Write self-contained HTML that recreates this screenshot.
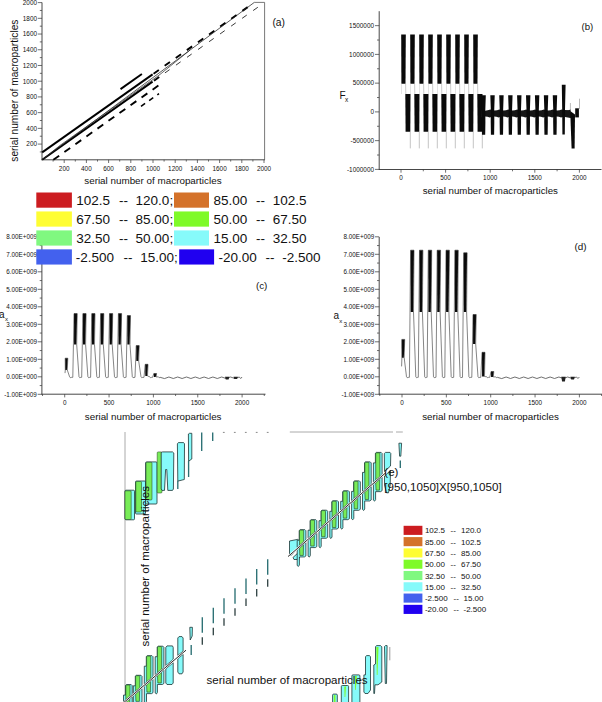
<!DOCTYPE html>
<html><head><meta charset="utf-8"><style>
html,body{margin:0;padding:0;background:#fff;}
body{width:602px;height:702px;overflow:hidden;position:relative;font-family:"Liberation Sans",sans-serif;}
svg{position:absolute;left:0;top:0;}
svg text{font-family:"Liberation Sans",sans-serif;fill:#111;}
</style></head><body>
<svg width="602" height="702" viewBox="0 0 602 702">
<g id="a">
<line x1="42.00" y1="2.50" x2="42.00" y2="160.20" stroke="#333" stroke-width="0.9" />
<line x1="41.60" y1="159.80" x2="265.00" y2="159.80" stroke="#333" stroke-width="0.9" />
<line x1="39.80" y1="151.94" x2="42.00" y2="151.94" stroke="#333" stroke-width="0.7" />
<line x1="37.80" y1="144.08" x2="42.00" y2="144.08" stroke="#333" stroke-width="0.7" />
<text x="37.00" y="146.48" font-size="6.4" text-anchor="end" >200</text>
<line x1="39.80" y1="136.22" x2="42.00" y2="136.22" stroke="#333" stroke-width="0.7" />
<line x1="37.80" y1="128.36" x2="42.00" y2="128.36" stroke="#333" stroke-width="0.7" />
<text x="37.00" y="130.76" font-size="6.4" text-anchor="end" >400</text>
<line x1="39.80" y1="120.50" x2="42.00" y2="120.50" stroke="#333" stroke-width="0.7" />
<line x1="37.80" y1="112.64" x2="42.00" y2="112.64" stroke="#333" stroke-width="0.7" />
<text x="37.00" y="115.04" font-size="6.4" text-anchor="end" >600</text>
<line x1="39.80" y1="104.78" x2="42.00" y2="104.78" stroke="#333" stroke-width="0.7" />
<line x1="37.80" y1="96.92" x2="42.00" y2="96.92" stroke="#333" stroke-width="0.7" />
<text x="37.00" y="99.32" font-size="6.4" text-anchor="end" >800</text>
<line x1="39.80" y1="89.06" x2="42.00" y2="89.06" stroke="#333" stroke-width="0.7" />
<line x1="37.80" y1="81.20" x2="42.00" y2="81.20" stroke="#333" stroke-width="0.7" />
<text x="37.00" y="83.60" font-size="6.4" text-anchor="end" >1000</text>
<line x1="39.80" y1="73.34" x2="42.00" y2="73.34" stroke="#333" stroke-width="0.7" />
<line x1="37.80" y1="65.48" x2="42.00" y2="65.48" stroke="#333" stroke-width="0.7" />
<text x="37.00" y="67.88" font-size="6.4" text-anchor="end" >1200</text>
<line x1="39.80" y1="57.62" x2="42.00" y2="57.62" stroke="#333" stroke-width="0.7" />
<line x1="37.80" y1="49.76" x2="42.00" y2="49.76" stroke="#333" stroke-width="0.7" />
<text x="37.00" y="52.16" font-size="6.4" text-anchor="end" >1400</text>
<line x1="39.80" y1="41.90" x2="42.00" y2="41.90" stroke="#333" stroke-width="0.7" />
<line x1="37.80" y1="34.04" x2="42.00" y2="34.04" stroke="#333" stroke-width="0.7" />
<text x="37.00" y="36.44" font-size="6.4" text-anchor="end" >1600</text>
<line x1="39.80" y1="26.18" x2="42.00" y2="26.18" stroke="#333" stroke-width="0.7" />
<line x1="37.80" y1="18.32" x2="42.00" y2="18.32" stroke="#333" stroke-width="0.7" />
<text x="37.00" y="20.72" font-size="6.4" text-anchor="end" >1800</text>
<line x1="39.80" y1="10.46" x2="42.00" y2="10.46" stroke="#333" stroke-width="0.7" />
<line x1="37.80" y1="2.60" x2="42.00" y2="2.60" stroke="#333" stroke-width="0.7" />
<text x="37.00" y="5.00" font-size="6.4" text-anchor="end" >2000</text>
<line x1="53.10" y1="159.80" x2="53.10" y2="161.60" stroke="#333" stroke-width="0.7" />
<line x1="64.20" y1="159.80" x2="64.20" y2="163.00" stroke="#333" stroke-width="0.7" />
<text x="64.20" y="171.00" font-size="6.4" text-anchor="middle" >200</text>
<line x1="75.30" y1="159.80" x2="75.30" y2="161.60" stroke="#333" stroke-width="0.7" />
<line x1="86.40" y1="159.80" x2="86.40" y2="163.00" stroke="#333" stroke-width="0.7" />
<text x="86.40" y="171.00" font-size="6.4" text-anchor="middle" >400</text>
<line x1="97.50" y1="159.80" x2="97.50" y2="161.60" stroke="#333" stroke-width="0.7" />
<line x1="108.60" y1="159.80" x2="108.60" y2="163.00" stroke="#333" stroke-width="0.7" />
<text x="108.60" y="171.00" font-size="6.4" text-anchor="middle" >600</text>
<line x1="119.70" y1="159.80" x2="119.70" y2="161.60" stroke="#333" stroke-width="0.7" />
<line x1="130.80" y1="159.80" x2="130.80" y2="163.00" stroke="#333" stroke-width="0.7" />
<text x="130.80" y="171.00" font-size="6.4" text-anchor="middle" >800</text>
<line x1="141.90" y1="159.80" x2="141.90" y2="161.60" stroke="#333" stroke-width="0.7" />
<line x1="153.00" y1="159.80" x2="153.00" y2="163.00" stroke="#333" stroke-width="0.7" />
<text x="153.00" y="171.00" font-size="6.4" text-anchor="middle" >1000</text>
<line x1="164.10" y1="159.80" x2="164.10" y2="161.60" stroke="#333" stroke-width="0.7" />
<line x1="175.20" y1="159.80" x2="175.20" y2="163.00" stroke="#333" stroke-width="0.7" />
<text x="175.20" y="171.00" font-size="6.4" text-anchor="middle" >1200</text>
<line x1="186.30" y1="159.80" x2="186.30" y2="161.60" stroke="#333" stroke-width="0.7" />
<line x1="197.40" y1="159.80" x2="197.40" y2="163.00" stroke="#333" stroke-width="0.7" />
<text x="197.40" y="171.00" font-size="6.4" text-anchor="middle" >1400</text>
<line x1="208.50" y1="159.80" x2="208.50" y2="161.60" stroke="#333" stroke-width="0.7" />
<line x1="219.60" y1="159.80" x2="219.60" y2="163.00" stroke="#333" stroke-width="0.7" />
<text x="219.60" y="171.00" font-size="6.4" text-anchor="middle" >1600</text>
<line x1="230.70" y1="159.80" x2="230.70" y2="161.60" stroke="#333" stroke-width="0.7" />
<line x1="241.80" y1="159.80" x2="241.80" y2="163.00" stroke="#333" stroke-width="0.7" />
<text x="241.80" y="171.00" font-size="6.4" text-anchor="middle" >1800</text>
<line x1="252.90" y1="159.80" x2="252.90" y2="161.60" stroke="#333" stroke-width="0.7" />
<line x1="264.00" y1="159.80" x2="264.00" y2="163.00" stroke="#333" stroke-width="0.7" />
<text x="264.00" y="171.00" font-size="6.4" text-anchor="middle" >2000</text>
<text x="152.90" y="184.20" font-size="9.85" text-anchor="middle" >serial number of macroparticles</text>
<text x="17.60" y="90.60" font-size="10.2" text-anchor="middle" transform="rotate(-90 17.6 90.6)">serial number of macroparticles</text>
<text x="272.40" y="25.90" font-size="10.3" text-anchor="start" >(a)</text>
<line x1="42.20" y1="152.40" x2="152.60" y2="74.35" stroke="#000" stroke-width="1.9" />
<line x1="247.70" y1="7.11" x2="153.50" y2="73.71" stroke="#000" stroke-width="1.9" stroke-dasharray="6.5 7.1"/>
<line x1="42.20" y1="159.70" x2="152.60" y2="81.65" stroke="#000" stroke-width="1.9" />
<line x1="154.00" y1="80.66" x2="159.20" y2="76.98" stroke="#000" stroke-width="1.9" />
<line x1="257.80" y1="7.27" x2="159.00" y2="77.12" stroke="#222" stroke-width="0.9" stroke-dasharray="5.7 7.8"/>
<line x1="42.20" y1="159.70" x2="254.30" y2="2.40" stroke="#222" stroke-width="0.75" />
<polyline points="42.2,159.7 60,145.42 159,75.22 190,50.08" fill="none" stroke="#222" stroke-width="0.7"/>
<line x1="254.30" y1="2.40" x2="264.60" y2="2.40" stroke="#555" stroke-width="0.8" />
<line x1="264.60" y1="2.40" x2="264.60" y2="159.80" stroke="#555" stroke-width="0.8" />
<line x1="53.37" y1="159.80" x2="159.00" y2="85.12" stroke="#000" stroke-width="1.9" stroke-dasharray="7.1 6.4"/>
<line x1="141.00" y1="106.35" x2="159.00" y2="93.62" stroke="#000" stroke-width="1.6" stroke-dasharray="5 5"/>
<line x1="120.50" y1="89.10" x2="141.90" y2="74.00" stroke="#000" stroke-width="1.9" />
</g>
<g id="b">
<line x1="379.20" y1="11.20" x2="379.20" y2="169.50" stroke="#333" stroke-width="0.9" />
<line x1="378.80" y1="169.50" x2="601.50" y2="169.50" stroke="#333" stroke-width="0.9" />
<line x1="375.00" y1="169.40" x2="379.20" y2="169.40" stroke="#333" stroke-width="0.7" />
<text x="374.00" y="171.70" font-size="6.4" text-anchor="end" >-1000000</text>
<line x1="377.00" y1="155.03" x2="379.20" y2="155.03" stroke="#333" stroke-width="0.7" />
<line x1="375.00" y1="140.65" x2="379.20" y2="140.65" stroke="#333" stroke-width="0.7" />
<text x="374.00" y="142.95" font-size="6.4" text-anchor="end" >-500000</text>
<line x1="377.00" y1="126.28" x2="379.20" y2="126.28" stroke="#333" stroke-width="0.7" />
<line x1="375.00" y1="111.90" x2="379.20" y2="111.90" stroke="#333" stroke-width="0.7" />
<text x="374.00" y="114.20" font-size="6.4" text-anchor="end" >0</text>
<line x1="377.00" y1="97.53" x2="379.20" y2="97.53" stroke="#333" stroke-width="0.7" />
<line x1="375.00" y1="83.15" x2="379.20" y2="83.15" stroke="#333" stroke-width="0.7" />
<text x="374.00" y="85.45" font-size="6.4" text-anchor="end" >500000</text>
<line x1="377.00" y1="68.78" x2="379.20" y2="68.78" stroke="#333" stroke-width="0.7" />
<line x1="375.00" y1="54.40" x2="379.20" y2="54.40" stroke="#333" stroke-width="0.7" />
<text x="374.00" y="56.70" font-size="6.4" text-anchor="end" >1000000</text>
<line x1="377.00" y1="40.03" x2="379.20" y2="40.03" stroke="#333" stroke-width="0.7" />
<line x1="375.00" y1="25.65" x2="379.20" y2="25.65" stroke="#333" stroke-width="0.7" />
<text x="374.00" y="27.95" font-size="6.4" text-anchor="end" >1500000</text>
<line x1="401.00" y1="169.50" x2="401.00" y2="172.70" stroke="#333" stroke-width="0.7" />
<text x="401.00" y="180.30" font-size="6.4" text-anchor="middle" >0</text>
<line x1="423.30" y1="169.50" x2="423.30" y2="171.30" stroke="#333" stroke-width="0.7" />
<line x1="445.60" y1="169.50" x2="445.60" y2="172.70" stroke="#333" stroke-width="0.7" />
<text x="445.60" y="180.30" font-size="6.4" text-anchor="middle" >500</text>
<line x1="467.90" y1="169.50" x2="467.90" y2="171.30" stroke="#333" stroke-width="0.7" />
<line x1="490.20" y1="169.50" x2="490.20" y2="172.70" stroke="#333" stroke-width="0.7" />
<text x="490.20" y="180.30" font-size="6.4" text-anchor="middle" >1000</text>
<line x1="512.50" y1="169.50" x2="512.50" y2="171.30" stroke="#333" stroke-width="0.7" />
<line x1="534.80" y1="169.50" x2="534.80" y2="172.70" stroke="#333" stroke-width="0.7" />
<text x="534.80" y="180.30" font-size="6.4" text-anchor="middle" >1500</text>
<line x1="557.10" y1="169.50" x2="557.10" y2="171.30" stroke="#333" stroke-width="0.7" />
<line x1="579.40" y1="169.50" x2="579.40" y2="172.70" stroke="#333" stroke-width="0.7" />
<text x="579.40" y="180.30" font-size="6.4" text-anchor="middle" >2000</text>
<text x="490.30" y="193.90" font-size="9.7" text-anchor="middle" >serial number of macroparticles</text>
<text x="339.50" y="98.80" font-size="10" text-anchor="start" >F</text>
<text x="345.00" y="102.40" font-size="6.5" text-anchor="start" >x</text>
<text x="581.50" y="30.40" font-size="9.6" text-anchor="start" >(b)</text>
<polygon points="401.20,34.50 405.80,34.50 405.50,83.70 401.40,83.70" fill="#0a0a0a" />
<line x1="405.60" y1="83.70" x2="405.80" y2="94.00" stroke="#999" stroke-width="0.5" />
<line x1="401.50" y1="83.70" x2="401.50" y2="94.00" stroke="#bbb" stroke-width="0.4" />
<polygon points="410.20,34.50 414.80,34.50 414.50,83.70 410.40,83.70" fill="#0a0a0a" />
<line x1="414.60" y1="83.70" x2="414.80" y2="94.00" stroke="#999" stroke-width="0.5" />
<line x1="410.50" y1="83.70" x2="410.50" y2="94.00" stroke="#bbb" stroke-width="0.4" />
<polygon points="419.20,34.50 423.80,34.50 423.50,83.70 419.40,83.70" fill="#0a0a0a" />
<line x1="423.60" y1="83.70" x2="423.80" y2="94.00" stroke="#999" stroke-width="0.5" />
<line x1="419.50" y1="83.70" x2="419.50" y2="94.00" stroke="#bbb" stroke-width="0.4" />
<polygon points="428.20,34.50 432.80,34.50 432.50,83.70 428.40,83.70" fill="#0a0a0a" />
<line x1="432.60" y1="83.70" x2="432.80" y2="94.00" stroke="#999" stroke-width="0.5" />
<line x1="428.50" y1="83.70" x2="428.50" y2="94.00" stroke="#bbb" stroke-width="0.4" />
<polygon points="437.20,34.50 441.80,34.50 441.50,83.70 437.40,83.70" fill="#0a0a0a" />
<line x1="441.60" y1="83.70" x2="441.80" y2="94.00" stroke="#999" stroke-width="0.5" />
<line x1="437.50" y1="83.70" x2="437.50" y2="94.00" stroke="#bbb" stroke-width="0.4" />
<polygon points="446.20,34.50 450.80,34.50 450.50,83.70 446.40,83.70" fill="#0a0a0a" />
<line x1="450.60" y1="83.70" x2="450.80" y2="94.00" stroke="#999" stroke-width="0.5" />
<line x1="446.50" y1="83.70" x2="446.50" y2="94.00" stroke="#bbb" stroke-width="0.4" />
<polygon points="455.20,34.50 459.80,34.50 459.50,83.70 455.40,83.70" fill="#0a0a0a" />
<line x1="459.60" y1="83.70" x2="459.80" y2="94.00" stroke="#999" stroke-width="0.5" />
<line x1="455.50" y1="83.70" x2="455.50" y2="94.00" stroke="#bbb" stroke-width="0.4" />
<polygon points="464.20,34.50 468.80,34.50 468.50,83.70 464.40,83.70" fill="#0a0a0a" />
<line x1="468.60" y1="83.70" x2="468.80" y2="94.00" stroke="#999" stroke-width="0.5" />
<line x1="464.50" y1="83.70" x2="464.50" y2="94.00" stroke="#bbb" stroke-width="0.4" />
<polygon points="473.20,34.50 477.80,34.50 477.50,83.70 473.40,83.70" fill="#0a0a0a" />
<line x1="477.60" y1="83.70" x2="477.80" y2="94.00" stroke="#999" stroke-width="0.5" />
<line x1="473.50" y1="83.70" x2="473.50" y2="94.00" stroke="#bbb" stroke-width="0.4" />
<polygon points="405.30,94.00 410.50,94.00 410.30,131.80 405.60,131.80" fill="#0a0a0a" />
<line x1="410.30" y1="131.80" x2="410.30" y2="148.40" stroke="#888" stroke-width="0.5" />
<polygon points="414.30,94.00 419.50,94.00 419.30,131.80 414.60,131.80" fill="#0a0a0a" />
<line x1="419.30" y1="131.80" x2="419.30" y2="148.40" stroke="#888" stroke-width="0.5" />
<polygon points="423.30,94.00 428.50,94.00 428.30,131.80 423.60,131.80" fill="#0a0a0a" />
<line x1="428.30" y1="131.80" x2="428.30" y2="148.40" stroke="#888" stroke-width="0.5" />
<polygon points="432.30,94.00 437.50,94.00 437.30,131.80 432.60,131.80" fill="#0a0a0a" />
<line x1="437.30" y1="131.80" x2="437.30" y2="148.40" stroke="#888" stroke-width="0.5" />
<polygon points="441.30,94.00 446.50,94.00 446.30,131.80 441.60,131.80" fill="#0a0a0a" />
<line x1="446.30" y1="131.80" x2="446.30" y2="148.40" stroke="#888" stroke-width="0.5" />
<polygon points="450.30,94.00 455.50,94.00 455.30,131.80 450.60,131.80" fill="#0a0a0a" />
<line x1="455.30" y1="131.80" x2="455.30" y2="148.40" stroke="#888" stroke-width="0.5" />
<polygon points="459.30,94.00 464.50,94.00 464.30,131.80 459.60,131.80" fill="#0a0a0a" />
<line x1="464.30" y1="131.80" x2="464.30" y2="148.40" stroke="#888" stroke-width="0.5" />
<polygon points="468.30,94.00 473.50,94.00 473.30,131.80 468.60,131.80" fill="#0a0a0a" />
<line x1="473.30" y1="131.80" x2="473.30" y2="148.40" stroke="#888" stroke-width="0.5" />
<polygon points="477.30,94.00 482.50,94.00 482.30,131.80 477.60,131.80" fill="#0a0a0a" />
<line x1="482.30" y1="131.80" x2="482.30" y2="148.40" stroke="#888" stroke-width="0.5" />
<path d="M 481.5 110.2 Q 485.96 111.4 490.42 109.6 Q 494.88 111.4 499.34 109.6 Q 503.80 111.4 508.26 109.6 Q 512.72 111.4 517.18 109.6 Q 521.64 111.4 526.10 109.6 Q 530.56 111.4 535.02 109.6 Q 539.48 111.4 543.94 109.6 Q 548.40 111.4 552.86 109.6 Q 557.32 111.4 561.78 109.6 Q 566.24 111.4 570.70 109.6 L 570 117.2 Q 565.54 115.8 561.08 117.4 Q 556.62 115.8 552.16 117.4 Q 547.70 115.8 543.24 117.4 Q 538.78 115.8 534.32 117.4 Q 529.86 115.8 525.40 117.4 Q 520.94 115.8 516.48 117.4 Q 512.02 115.8 507.56 117.4 Q 503.10 115.8 498.64 117.4 Q 494.18 115.8 489.72 117.4 Q 485.26 115.8 480.80 117.4 Z" fill="#161616"/>
<polygon points="481.40,95.20 485.80,95.20 485.30,110.00 485.40,122.00 485.20,134.80 482.00,134.80 481.80,122.00 481.90,110.00" fill="#0a0a0a" />
<polygon points="490.32,95.20 494.72,95.20 494.22,110.00 494.32,122.00 494.12,134.80 490.92,134.80 490.72,122.00 490.82,110.00" fill="#0a0a0a" />
<polygon points="499.24,95.20 503.64,95.20 503.14,110.00 503.24,122.00 503.04,134.80 499.84,134.80 499.64,122.00 499.74,110.00" fill="#0a0a0a" />
<polygon points="508.16,95.20 512.56,95.20 512.06,110.00 512.16,122.00 511.96,134.80 508.76,134.80 508.56,122.00 508.66,110.00" fill="#0a0a0a" />
<polygon points="517.08,95.20 521.48,95.20 520.98,110.00 521.08,122.00 520.88,134.80 517.68,134.80 517.48,122.00 517.58,110.00" fill="#0a0a0a" />
<polygon points="526.00,95.20 530.40,95.20 529.90,110.00 530.00,122.00 529.80,134.80 526.60,134.80 526.40,122.00 526.50,110.00" fill="#0a0a0a" />
<polygon points="534.92,95.20 539.32,95.20 538.82,110.00 538.92,122.00 538.72,134.80 535.52,134.80 535.32,122.00 535.42,110.00" fill="#0a0a0a" />
<polygon points="543.84,95.20 548.24,95.20 547.74,110.00 547.84,122.00 547.64,134.80 544.44,134.80 544.24,122.00 544.34,110.00" fill="#0a0a0a" />
<polygon points="552.76,95.20 557.16,95.20 556.66,110.00 556.76,122.00 556.56,134.80 553.36,134.80 553.16,122.00 553.26,110.00" fill="#0a0a0a" />
<polygon points="561.80,84.80 565.60,84.80 565.00,110.00 564.80,134.50 562.40,134.50 562.20,110.00" fill="#0a0a0a" />
<polygon points="565.00,110.00 570.00,110.50 572.50,117.00 570.50,118.00 565.00,117.00" fill="#161616" />
<polygon points="570.20,111.00 575.00,114.50 574.60,148.40 571.60,148.40" fill="#0a0a0a" />
<rect x="575.20" y="108.30" width="3.70" height="9.10" fill="#0a0a0a" />
<line x1="579.50" y1="98.70" x2="579.50" y2="109.00" stroke="#777" stroke-width="0.5" />
<line x1="570.40" y1="103.00" x2="570.40" y2="110.00" stroke="#777" stroke-width="0.5" />
</g>
<g id="cd">
<line x1="41.90" y1="237.00" x2="41.90" y2="394.40" stroke="#333" stroke-width="0.9" />
<line x1="41.50" y1="394.20" x2="265.50" y2="394.20" stroke="#333" stroke-width="0.9" />
<line x1="37.70" y1="394.30" x2="41.90" y2="394.30" stroke="#333" stroke-width="0.7" />
<text x="36.90" y="396.50" font-size="6.3" text-anchor="end" >-1.00E+009</text>
<line x1="39.70" y1="385.55" x2="41.90" y2="385.55" stroke="#333" stroke-width="0.7" />
<line x1="37.70" y1="376.80" x2="41.90" y2="376.80" stroke="#333" stroke-width="0.7" />
<text x="36.90" y="379.00" font-size="6.3" text-anchor="end" >0.00E+000</text>
<line x1="39.70" y1="368.05" x2="41.90" y2="368.05" stroke="#333" stroke-width="0.7" />
<line x1="37.70" y1="359.30" x2="41.90" y2="359.30" stroke="#333" stroke-width="0.7" />
<text x="36.90" y="361.50" font-size="6.3" text-anchor="end" >1.00E+009</text>
<line x1="39.70" y1="350.55" x2="41.90" y2="350.55" stroke="#333" stroke-width="0.7" />
<line x1="37.70" y1="341.80" x2="41.90" y2="341.80" stroke="#333" stroke-width="0.7" />
<text x="36.90" y="344.00" font-size="6.3" text-anchor="end" >2.00E+009</text>
<line x1="39.70" y1="333.05" x2="41.90" y2="333.05" stroke="#333" stroke-width="0.7" />
<line x1="37.70" y1="324.30" x2="41.90" y2="324.30" stroke="#333" stroke-width="0.7" />
<text x="36.90" y="326.50" font-size="6.3" text-anchor="end" >3.00E+009</text>
<line x1="39.70" y1="315.55" x2="41.90" y2="315.55" stroke="#333" stroke-width="0.7" />
<line x1="37.70" y1="306.80" x2="41.90" y2="306.80" stroke="#333" stroke-width="0.7" />
<text x="36.90" y="309.00" font-size="6.3" text-anchor="end" >4.00E+009</text>
<line x1="39.70" y1="298.05" x2="41.90" y2="298.05" stroke="#333" stroke-width="0.7" />
<line x1="37.70" y1="289.30" x2="41.90" y2="289.30" stroke="#333" stroke-width="0.7" />
<text x="36.90" y="291.50" font-size="6.3" text-anchor="end" >5.00E+009</text>
<line x1="39.70" y1="280.55" x2="41.90" y2="280.55" stroke="#333" stroke-width="0.7" />
<line x1="37.70" y1="271.80" x2="41.90" y2="271.80" stroke="#333" stroke-width="0.7" />
<text x="36.90" y="274.00" font-size="6.3" text-anchor="end" >6.00E+009</text>
<line x1="39.70" y1="263.05" x2="41.90" y2="263.05" stroke="#333" stroke-width="0.7" />
<line x1="37.70" y1="254.30" x2="41.90" y2="254.30" stroke="#333" stroke-width="0.7" />
<text x="36.90" y="256.50" font-size="6.3" text-anchor="end" >7.00E+009</text>
<line x1="39.70" y1="245.55" x2="41.90" y2="245.55" stroke="#333" stroke-width="0.7" />
<line x1="37.70" y1="236.80" x2="41.90" y2="236.80" stroke="#333" stroke-width="0.7" />
<text x="36.90" y="239.00" font-size="6.3" text-anchor="end" >8.00E+009</text>
<line x1="42.53" y1="394.20" x2="42.53" y2="396.00" stroke="#333" stroke-width="0.7" />
<line x1="64.70" y1="394.20" x2="64.70" y2="397.40" stroke="#333" stroke-width="0.7" />
<text x="64.70" y="405.00" font-size="6.4" text-anchor="middle" >0</text>
<line x1="86.88" y1="394.20" x2="86.88" y2="396.00" stroke="#333" stroke-width="0.7" />
<line x1="109.05" y1="394.20" x2="109.05" y2="397.40" stroke="#333" stroke-width="0.7" />
<text x="109.05" y="405.00" font-size="6.4" text-anchor="middle" >500</text>
<line x1="131.23" y1="394.20" x2="131.23" y2="396.00" stroke="#333" stroke-width="0.7" />
<line x1="153.40" y1="394.20" x2="153.40" y2="397.40" stroke="#333" stroke-width="0.7" />
<text x="153.40" y="405.00" font-size="6.4" text-anchor="middle" >1000</text>
<line x1="175.57" y1="394.20" x2="175.57" y2="396.00" stroke="#333" stroke-width="0.7" />
<line x1="197.75" y1="394.20" x2="197.75" y2="397.40" stroke="#333" stroke-width="0.7" />
<text x="197.75" y="405.00" font-size="6.4" text-anchor="middle" >1500</text>
<line x1="219.93" y1="394.20" x2="219.93" y2="396.00" stroke="#333" stroke-width="0.7" />
<line x1="242.10" y1="394.20" x2="242.10" y2="397.40" stroke="#333" stroke-width="0.7" />
<text x="242.10" y="405.00" font-size="6.4" text-anchor="middle" >2000</text>
<line x1="264.27" y1="394.20" x2="264.27" y2="396.00" stroke="#333" stroke-width="0.7" />
<text x="153.20" y="419.70" font-size="9.8" text-anchor="middle" >serial number of macroparticles</text>
<text x="-1.00" y="317.90" font-size="10" text-anchor="start" >a</text>
<text x="5.00" y="321.40" font-size="6.0" text-anchor="start" >x</text>
<text x="255.90" y="289.00" font-size="9.9" text-anchor="start" >(c)</text>
<polygon points="65.20,358.20 67.80,358.20 66.90,370.00 65.30,370.00" fill="#0a0a0a" />
<polygon points="74.00,313.60 77.20,313.60 76.30,344.60 74.10,344.60" fill="#0a0a0a" />
<polygon points="82.88,313.60 86.08,313.60 85.18,344.60 82.98,344.60" fill="#0a0a0a" />
<polygon points="91.76,313.60 94.96,313.60 94.06,344.60 91.86,344.60" fill="#0a0a0a" />
<polygon points="100.64,313.60 103.84,313.60 102.94,344.60 100.74,344.60" fill="#0a0a0a" />
<polygon points="109.52,313.60 112.72,313.60 111.82,344.60 109.62,344.60" fill="#0a0a0a" />
<polygon points="118.40,313.60 121.60,313.60 120.70,344.60 118.50,344.60" fill="#0a0a0a" />
<polygon points="127.28,315.60 130.48,315.60 129.58,344.60 127.38,344.60" fill="#0a0a0a" />
<polygon points="136.20,345.60 139.20,345.60 138.30,361.00 136.30,361.00" fill="#0a0a0a" />
<polygon points="145.20,364.30 148.00,364.30 147.10,376.00 145.30,376.00" fill="#0a0a0a" />
<polygon points="153.80,373.50 156.60,373.50 155.70,377.00 153.90,377.00" fill="#0a0a0a" />
<path d="M 65.0 373.1 L 65.3 370.0 L 65.2 358.2 L 67.8 358.2 L 67.3 370.0 L 69.6 376.8 Q 70.3 378.4 71.3 377.4 L 72.8 377.3 L 74.0 313.6 L 77.2 313.6 L 76.7 344.6 L 79.0 376.8 Q 79.7 378.4 80.7 377.4 L 81.7 377.3 L 82.9 313.6 L 86.1 313.6 L 85.6 344.6 L 87.9 376.8 Q 88.6 378.4 89.6 377.4 L 90.6 377.3 L 91.8 313.6 L 95.0 313.6 L 94.5 344.6 L 96.8 376.8 Q 97.5 378.4 98.5 377.4 L 99.4 377.3 L 100.6 313.6 L 103.8 313.6 L 103.3 344.6 L 105.6 376.8 Q 106.3 378.4 107.3 377.4 L 108.3 377.3 L 109.5 313.6 L 112.7 313.6 L 112.2 344.6 L 114.5 376.8 Q 115.2 378.4 116.2 377.4 L 117.2 377.3 L 118.4 313.6 L 121.6 313.6 L 121.1 344.6 L 123.4 376.8 Q 124.1 378.4 125.1 377.4 L 126.1 377.3 L 127.3 315.6 L 130.5 315.6 L 130.0 344.6 L 132.3 376.8 Q 133.0 378.4 134.0 377.4 L 135.0 377.3 L 136.2 345.6 L 139.2 345.6 L 138.7 361.0 L 141.0 376.8 Q 141.7 378.4 142.7 377.4 L 144.0 377.3 L 145.2 364.3 L 148.0 364.3 L 147.5 376.0 L 149.8 376.8 Q 150.5 378.4 151.5 377.4 L 152.6 377.3 L 153.8 373.5 L 156.6 373.5 L 156.1 377.0 L 158.4 376.8 Q 159.1 378.4 160.1 377.4" fill="none" stroke="#333" stroke-width="0.6"/>
<path d="M 160.1 377.3 Q 164.5 380.0 168.9 377.0 Q 173.3 380.0 177.7 377.0 Q 182.1 380.0 186.5 377.0 Q 190.9 380.0 195.3 377.0 Q 199.7 380.0 204.1 377.0 Q 208.5 380.0 212.9 377.0 Q 217.3 380.0 221.7 377.0 Q 226.1 380.0 230.5 377.0 Q 234.9 380.0 239.3 377.0 Q 240.7 380.0 242.1 377.0 " fill="none" stroke="#555" stroke-width="0.85"/>
<polygon points="225.00,376.80 229.40,376.80 228.60,379.60 225.80,379.60" fill="#222" />
<polygon points="233.50,376.80 237.90,376.80 237.10,379.00 234.30,379.00" fill="#222" />
<line x1="379.20" y1="237.00" x2="379.20" y2="394.40" stroke="#333" stroke-width="0.9" />
<line x1="378.80" y1="394.20" x2="602.80" y2="394.20" stroke="#333" stroke-width="0.9" />
<line x1="375.00" y1="394.30" x2="379.20" y2="394.30" stroke="#333" stroke-width="0.7" />
<text x="374.20" y="396.50" font-size="6.3" text-anchor="end" >-1.00E+009</text>
<line x1="377.00" y1="385.55" x2="379.20" y2="385.55" stroke="#333" stroke-width="0.7" />
<line x1="375.00" y1="376.80" x2="379.20" y2="376.80" stroke="#333" stroke-width="0.7" />
<text x="374.20" y="379.00" font-size="6.3" text-anchor="end" >0.00E+000</text>
<line x1="377.00" y1="368.05" x2="379.20" y2="368.05" stroke="#333" stroke-width="0.7" />
<line x1="375.00" y1="359.30" x2="379.20" y2="359.30" stroke="#333" stroke-width="0.7" />
<text x="374.20" y="361.50" font-size="6.3" text-anchor="end" >1.00E+009</text>
<line x1="377.00" y1="350.55" x2="379.20" y2="350.55" stroke="#333" stroke-width="0.7" />
<line x1="375.00" y1="341.80" x2="379.20" y2="341.80" stroke="#333" stroke-width="0.7" />
<text x="374.20" y="344.00" font-size="6.3" text-anchor="end" >2.00E+009</text>
<line x1="377.00" y1="333.05" x2="379.20" y2="333.05" stroke="#333" stroke-width="0.7" />
<line x1="375.00" y1="324.30" x2="379.20" y2="324.30" stroke="#333" stroke-width="0.7" />
<text x="374.20" y="326.50" font-size="6.3" text-anchor="end" >3.00E+009</text>
<line x1="377.00" y1="315.55" x2="379.20" y2="315.55" stroke="#333" stroke-width="0.7" />
<line x1="375.00" y1="306.80" x2="379.20" y2="306.80" stroke="#333" stroke-width="0.7" />
<text x="374.20" y="309.00" font-size="6.3" text-anchor="end" >4.00E+009</text>
<line x1="377.00" y1="298.05" x2="379.20" y2="298.05" stroke="#333" stroke-width="0.7" />
<line x1="375.00" y1="289.30" x2="379.20" y2="289.30" stroke="#333" stroke-width="0.7" />
<text x="374.20" y="291.50" font-size="6.3" text-anchor="end" >5.00E+009</text>
<line x1="377.00" y1="280.55" x2="379.20" y2="280.55" stroke="#333" stroke-width="0.7" />
<line x1="375.00" y1="271.80" x2="379.20" y2="271.80" stroke="#333" stroke-width="0.7" />
<text x="374.20" y="274.00" font-size="6.3" text-anchor="end" >6.00E+009</text>
<line x1="377.00" y1="263.05" x2="379.20" y2="263.05" stroke="#333" stroke-width="0.7" />
<line x1="375.00" y1="254.30" x2="379.20" y2="254.30" stroke="#333" stroke-width="0.7" />
<text x="374.20" y="256.50" font-size="6.3" text-anchor="end" >7.00E+009</text>
<line x1="377.00" y1="245.55" x2="379.20" y2="245.55" stroke="#333" stroke-width="0.7" />
<line x1="375.00" y1="236.80" x2="379.20" y2="236.80" stroke="#333" stroke-width="0.7" />
<text x="374.20" y="239.00" font-size="6.3" text-anchor="end" >8.00E+009</text>
<line x1="379.82" y1="394.20" x2="379.82" y2="396.00" stroke="#333" stroke-width="0.7" />
<line x1="402.00" y1="394.20" x2="402.00" y2="397.40" stroke="#333" stroke-width="0.7" />
<text x="402.00" y="405.00" font-size="6.4" text-anchor="middle" >0</text>
<line x1="424.18" y1="394.20" x2="424.18" y2="396.00" stroke="#333" stroke-width="0.7" />
<line x1="446.35" y1="394.20" x2="446.35" y2="397.40" stroke="#333" stroke-width="0.7" />
<text x="446.35" y="405.00" font-size="6.4" text-anchor="middle" >500</text>
<line x1="468.52" y1="394.20" x2="468.52" y2="396.00" stroke="#333" stroke-width="0.7" />
<line x1="490.70" y1="394.20" x2="490.70" y2="397.40" stroke="#333" stroke-width="0.7" />
<text x="490.70" y="405.00" font-size="6.4" text-anchor="middle" >1000</text>
<line x1="512.88" y1="394.20" x2="512.88" y2="396.00" stroke="#333" stroke-width="0.7" />
<line x1="535.05" y1="394.20" x2="535.05" y2="397.40" stroke="#333" stroke-width="0.7" />
<text x="535.05" y="405.00" font-size="6.4" text-anchor="middle" >1500</text>
<line x1="557.23" y1="394.20" x2="557.23" y2="396.00" stroke="#333" stroke-width="0.7" />
<line x1="579.40" y1="394.20" x2="579.40" y2="397.40" stroke="#333" stroke-width="0.7" />
<text x="579.40" y="405.00" font-size="6.4" text-anchor="middle" >2000</text>
<line x1="601.58" y1="394.20" x2="601.58" y2="396.00" stroke="#333" stroke-width="0.7" />
<text x="490.50" y="419.70" font-size="9.8" text-anchor="middle" >serial number of macroparticles</text>
<text x="333.50" y="319.40" font-size="10" text-anchor="start" >a</text>
<text x="339.20" y="322.60" font-size="6.0" text-anchor="start" >x</text>
<text x="574.50" y="250.20" font-size="9.9" text-anchor="start" >(d)</text>
<polygon points="401.80,339.40 404.70,339.40 403.80,357.80 401.90,357.80" fill="#0a0a0a" />
<polygon points="410.60,250.20 414.00,250.20 413.10,312.00 410.70,312.00" fill="#0a0a0a" />
<polygon points="419.45,250.20 422.85,250.20 421.95,312.00 419.55,312.00" fill="#0a0a0a" />
<polygon points="428.30,250.20 431.70,250.20 430.80,312.00 428.40,312.00" fill="#0a0a0a" />
<polygon points="437.15,250.20 440.55,250.20 439.65,312.00 437.25,312.00" fill="#0a0a0a" />
<polygon points="446.00,250.20 449.40,250.20 448.50,312.00 446.10,312.00" fill="#0a0a0a" />
<polygon points="454.85,250.20 458.25,250.20 457.35,312.00 454.95,312.00" fill="#0a0a0a" />
<polygon points="463.70,252.80 467.10,252.80 466.20,312.00 463.80,312.00" fill="#0a0a0a" />
<polygon points="473.00,314.50 476.20,314.50 475.30,344.00 473.10,344.00" fill="#0a0a0a" />
<polygon points="482.00,352.30 485.00,352.30 484.10,376.50 482.10,376.50" fill="#0a0a0a" />
<polygon points="491.00,371.50 493.80,371.50 492.90,377.00 491.10,377.00" fill="#0a0a0a" />
<path d="M 401.6 366.4 L 401.9 357.8 L 401.8 339.4 L 404.7 339.4 L 404.2 357.8 L 406.5 376.8 Q 407.2 378.4 408.2 377.4 L 409.4 377.3 L 410.6 250.2 L 414.0 250.2 L 413.5 312.0 L 415.8 376.8 Q 416.5 378.4 417.5 377.4 L 418.3 377.3 L 419.5 250.2 L 422.9 250.2 L 422.4 312.0 L 424.7 376.8 Q 425.4 378.4 426.4 377.4 L 427.1 377.3 L 428.3 250.2 L 431.7 250.2 L 431.2 312.0 L 433.5 376.8 Q 434.2 378.4 435.2 377.4 L 436.0 377.3 L 437.2 250.2 L 440.6 250.2 L 440.1 312.0 L 442.4 376.8 Q 443.1 378.4 444.1 377.4 L 444.8 377.3 L 446.0 250.2 L 449.4 250.2 L 448.9 312.0 L 451.2 376.8 Q 451.9 378.4 452.9 377.4 L 453.7 377.3 L 454.9 250.2 L 458.2 250.2 L 457.8 312.0 L 460.1 376.8 Q 460.8 378.4 461.8 377.4 L 462.5 377.3 L 463.7 252.8 L 467.1 252.8 L 466.6 312.0 L 468.9 376.8 Q 469.6 378.4 470.6 377.4 L 471.8 377.3 L 473.0 314.5 L 476.2 314.5 L 475.7 344.0 L 478.0 376.8 Q 478.7 378.4 479.7 377.4 L 480.8 377.3 L 482.0 352.3 L 485.0 352.3 L 484.5 376.5 L 486.8 376.8 Q 487.5 378.4 488.5 377.4 L 489.8 377.3 L 491.0 371.5 L 493.8 371.5 L 493.3 377.0 L 495.6 376.8 Q 496.3 378.4 497.3 377.4" fill="none" stroke="#333" stroke-width="0.6"/>
<path d="M 497.3 377.3 Q 501.7 380.0 506.1 377.0 Q 510.5 380.0 514.9 377.0 Q 519.3 380.0 523.7 377.0 Q 528.1 380.0 532.5 377.0 Q 536.9 380.0 541.3 377.0 Q 545.7 380.0 550.1 377.0 Q 554.5 380.0 558.9 377.0 Q 563.3 380.0 567.7 377.0 Q 572.1 380.0 576.5 377.0 Q 577.9 380.0 579.4 377.0 " fill="none" stroke="#555" stroke-width="0.85"/>
<polygon points="561.30,376.80 565.70,376.80 564.90,381.40 562.10,381.40" fill="#222" />
<polygon points="570.40,376.80 574.80,376.80 574.00,379.60 571.20,379.60" fill="#222" />
</g>
<g id="e">
<line x1="125.00" y1="432.00" x2="125.00" y2="702.00" stroke="#aaa" stroke-width="1.0" />
<line x1="289.80" y1="432.00" x2="393.00" y2="432.00" stroke="#aaa" stroke-width="1.0" />
<line x1="396.00" y1="432.00" x2="402.80" y2="432.00" stroke="#aaa" stroke-width="1.0" />
<line x1="222.90" y1="432.40" x2="224.70" y2="432.40" stroke="#888" stroke-width="1.0" />
<line x1="233.90" y1="432.40" x2="235.70" y2="432.40" stroke="#888" stroke-width="1.0" />
<line x1="244.90" y1="432.40" x2="246.70" y2="432.40" stroke="#888" stroke-width="1.0" />
<line x1="255.80" y1="432.40" x2="257.60" y2="432.40" stroke="#888" stroke-width="1.0" />
<line x1="266.80" y1="432.40" x2="268.60" y2="432.40" stroke="#888" stroke-width="1.0" />
<polygon points="289.50,541.00 297.50,539.40 299.50,541.00 299.50,546.00 291.00,555.60 289.50,555.00" fill="#86FAFA" stroke="#1c3434" stroke-width="0.8" stroke-linejoin="round"/>
<polygon points="293.00,557.50 299.50,551.50 299.50,558.00 297.00,559.50 294.00,559.50" fill="#86FAFA" stroke="#1c3434" stroke-width="0.8" stroke-linejoin="round"/>
<polygon points="297.20,540.20 299.20,540.20 299.20,530.50 300.20,529.70 304.90,529.70 305.90,530.70 305.90,540.02 297.20,547.47" fill="#86FAFA" stroke="#1c3434" stroke-width="0.8" stroke-linejoin="round"/>
<polygon points="299.50,530.60 300.30,530.10 303.30,530.10 303.70,530.90 303.70,541.60 299.50,545.20" fill="#78EC58" stroke="#1c3a24" stroke-width="0.6" stroke-linejoin="round"/>
<polygon points="297.20,549.87 305.90,542.42 305.90,555.94 304.40,556.94 299.40,556.94 299.40,564.94 298.40,566.44 297.20,565.44" fill="#86FAFA" stroke="#1c3434" stroke-width="0.8" stroke-linejoin="round"/>
<polygon points="299.50,548.20 303.50,544.77 303.30,555.44 299.80,555.44" fill="#78EC58" stroke="#1c3a24" stroke-width="0.6" stroke-linejoin="round"/>
<polygon points="308.10,530.20 310.10,530.20 310.10,520.50 311.10,519.70 315.80,519.70 316.80,520.70 316.80,530.68 308.10,538.13" fill="#86FAFA" stroke="#1c3434" stroke-width="0.8" stroke-linejoin="round"/>
<polygon points="310.40,520.60 311.20,520.10 314.20,520.10 314.60,520.90 314.60,532.26 310.40,535.86" fill="#78EC58" stroke="#1c3a24" stroke-width="0.6" stroke-linejoin="round"/>
<polygon points="308.10,540.53 316.80,533.08 316.80,546.60 315.30,547.60 310.30,547.60 310.30,555.60 309.30,557.10 308.10,556.10" fill="#86FAFA" stroke="#1c3434" stroke-width="0.8" stroke-linejoin="round"/>
<polygon points="310.40,538.86 314.40,535.43 314.20,546.10 310.70,546.10" fill="#78EC58" stroke="#1c3a24" stroke-width="0.6" stroke-linejoin="round"/>
<polygon points="319.00,520.70 321.00,520.70 321.00,511.00 322.00,510.20 326.70,510.20 327.70,511.20 327.70,521.33 319.00,528.79" fill="#86FAFA" stroke="#1c3434" stroke-width="0.8" stroke-linejoin="round"/>
<polygon points="321.30,511.10 322.10,510.60 325.10,510.60 325.50,511.40 325.50,522.92 321.30,526.52" fill="#78EC58" stroke="#1c3a24" stroke-width="0.6" stroke-linejoin="round"/>
<polygon points="319.00,531.19 327.70,523.73 327.70,537.26 326.20,538.26 321.20,538.26 321.20,546.26 320.20,547.76 319.00,546.76" fill="#86FAFA" stroke="#1c3434" stroke-width="0.8" stroke-linejoin="round"/>
<polygon points="321.30,529.52 325.30,526.09 325.10,536.76 321.60,536.76" fill="#78EC58" stroke="#1c3a24" stroke-width="0.6" stroke-linejoin="round"/>
<polygon points="329.80,511.30 331.80,511.30 331.80,501.60 332.80,500.80 337.50,500.80 338.50,501.80 338.50,512.08 329.80,519.53" fill="#86FAFA" stroke="#1c3434" stroke-width="0.8" stroke-linejoin="round"/>
<polygon points="332.10,501.70 332.90,501.20 335.90,501.20 336.30,502.00 336.30,513.66 332.10,517.26" fill="#78EC58" stroke="#1c3a24" stroke-width="0.6" stroke-linejoin="round"/>
<polygon points="329.80,521.93 338.50,514.48 338.50,528.01 337.00,529.01 332.00,529.01 332.00,537.01 331.00,538.51 329.80,537.51" fill="#86FAFA" stroke="#1c3434" stroke-width="0.8" stroke-linejoin="round"/>
<polygon points="332.10,520.26 336.10,516.84 335.90,527.51 332.40,527.51" fill="#78EC58" stroke="#1c3a24" stroke-width="0.6" stroke-linejoin="round"/>
<polygon points="340.70,501.30 342.70,501.30 342.70,491.60 343.70,490.80 348.40,490.80 349.40,491.80 349.40,502.74 340.70,510.19" fill="#86FAFA" stroke="#1c3434" stroke-width="0.8" stroke-linejoin="round"/>
<polygon points="343.00,491.70 343.80,491.20 346.80,491.20 347.20,492.00 347.20,504.32 343.00,507.92" fill="#78EC58" stroke="#1c3a24" stroke-width="0.6" stroke-linejoin="round"/>
<polygon points="340.70,512.59 349.40,505.14 349.40,518.67 347.90,519.67 342.90,519.67 342.90,527.67 341.90,529.17 340.70,528.17" fill="#86FAFA" stroke="#1c3434" stroke-width="0.8" stroke-linejoin="round"/>
<polygon points="343.00,510.92 347.00,507.49 346.80,518.17 343.30,518.17" fill="#78EC58" stroke="#1c3a24" stroke-width="0.6" stroke-linejoin="round"/>
<polygon points="351.60,491.40 353.60,491.40 353.60,481.70 354.60,480.90 359.30,480.90 360.30,481.90 360.30,493.40 351.60,500.85" fill="#86FAFA" stroke="#1c3434" stroke-width="0.8" stroke-linejoin="round"/>
<polygon points="353.90,481.80 354.70,481.30 357.70,481.30 358.10,482.10 358.10,494.98 353.90,498.58" fill="#78EC58" stroke="#1c3a24" stroke-width="0.6" stroke-linejoin="round"/>
<polygon points="351.60,503.25 360.30,495.80 360.30,509.32 358.80,510.32 353.80,510.32 353.80,518.32 352.80,519.82 351.60,518.82" fill="#86FAFA" stroke="#1c3434" stroke-width="0.8" stroke-linejoin="round"/>
<polygon points="353.90,501.58 357.90,498.15 357.70,508.82 354.20,508.82" fill="#78EC58" stroke="#1c3a24" stroke-width="0.6" stroke-linejoin="round"/>
<polygon points="362.50,472.40 364.50,472.40 364.50,462.70 365.50,461.90 370.20,461.90 371.20,462.90 371.20,484.05 362.50,491.51" fill="#86FAFA" stroke="#1c3434" stroke-width="0.8" stroke-linejoin="round"/>
<polygon points="364.80,462.80 365.60,462.30 368.60,462.30 369.00,463.10 369.00,485.64 364.80,489.24" fill="#78EC58" stroke="#1c3a24" stroke-width="0.6" stroke-linejoin="round"/>
<polygon points="362.50,493.91 371.20,486.45 371.20,499.98 369.70,500.98 364.70,500.98 364.70,508.98 363.70,510.48 362.50,509.48" fill="#86FAFA" stroke="#1c3434" stroke-width="0.8" stroke-linejoin="round"/>
<polygon points="364.80,492.24 368.80,488.81 368.60,499.48 365.10,499.48" fill="#78EC58" stroke="#1c3a24" stroke-width="0.6" stroke-linejoin="round"/>
<polygon points="373.40,462.90 375.40,462.90 375.40,453.20 376.40,452.40 381.10,452.40 382.10,453.40 382.10,474.71 373.40,482.17" fill="#86FAFA" stroke="#1c3434" stroke-width="0.8" stroke-linejoin="round"/>
<polygon points="375.70,453.30 376.50,452.80 379.50,452.80 379.90,453.60 379.90,476.30 375.70,479.90" fill="#78EC58" stroke="#1c3a24" stroke-width="0.6" stroke-linejoin="round"/>
<polygon points="373.40,484.57 382.10,477.11 382.10,490.64 380.60,491.64 375.60,491.64 375.60,499.64 374.60,501.14 373.40,500.14" fill="#86FAFA" stroke="#1c3434" stroke-width="0.8" stroke-linejoin="round"/>
<polygon points="375.70,482.90 379.70,479.47 379.50,490.14 376.00,490.14" fill="#78EC58" stroke="#1c3a24" stroke-width="0.6" stroke-linejoin="round"/>
<polygon points="384.30,453.50 385.50,452.40 390.00,452.40 390.80,453.50 390.50,466.00 384.50,471.50" fill="#86FAFA" stroke="#1c3434" stroke-width="0.8" stroke-linejoin="round"/>
<polygon points="384.50,476.00 390.50,470.50 390.20,485.00 388.50,492.80 386.50,492.80 384.50,485.00" fill="#86FAFA" stroke="#1c3434" stroke-width="0.8" stroke-linejoin="round"/>
<line x1="288" y1="556.56" x2="386" y2="472.57" stroke="#fff" stroke-width="2.0"/>
<line x1="288" y1="556.56" x2="386" y2="472.57" stroke="#111" stroke-width="0.9"/>
<polygon points="398.90,443.20 401.60,443.20 400.80,456.20 399.60,456.20" fill="#86FAFA" stroke="#1c3434" stroke-width="0.8" stroke-linejoin="round"/>
<line x1="400.30" y1="460.50" x2="400.30" y2="468.00" stroke="#2a6f73" stroke-width="1.35"/>
<line x1="202.30" y1="617.30" x2="202.30" y2="632.80" stroke="#2a6f73" stroke-width="1.35"/>
<line x1="202.30" y1="637.30" x2="202.30" y2="644.80" stroke="#2d3f40" stroke-width="1.3"/>
<line x1="213.30" y1="607.80" x2="213.30" y2="623.30" stroke="#2a6f73" stroke-width="1.35"/>
<line x1="213.30" y1="627.80" x2="213.30" y2="635.30" stroke="#2d3f40" stroke-width="1.3"/>
<line x1="224.00" y1="598.20" x2="224.00" y2="613.70" stroke="#2a6f73" stroke-width="1.35"/>
<line x1="224.00" y1="618.20" x2="224.00" y2="625.70" stroke="#2d3f40" stroke-width="1.3"/>
<line x1="235.00" y1="588.20" x2="235.00" y2="603.70" stroke="#2a6f73" stroke-width="1.35"/>
<line x1="235.00" y1="608.20" x2="235.00" y2="615.70" stroke="#2d3f40" stroke-width="1.3"/>
<line x1="246.00" y1="578.50" x2="246.00" y2="594.00" stroke="#2a6f73" stroke-width="1.35"/>
<line x1="246.00" y1="598.50" x2="246.00" y2="606.00" stroke="#2d3f40" stroke-width="1.3"/>
<line x1="256.70" y1="568.90" x2="256.70" y2="584.40" stroke="#2a6f73" stroke-width="1.35"/>
<line x1="256.70" y1="588.90" x2="256.70" y2="596.40" stroke="#2d3f40" stroke-width="1.3"/>
<line x1="267.70" y1="559.30" x2="267.70" y2="574.80" stroke="#2a6f73" stroke-width="1.35"/>
<line x1="267.70" y1="579.30" x2="267.70" y2="586.80" stroke="#2d3f40" stroke-width="1.3"/>
<polygon points="123.50,695.10 125.50,695.10 125.50,685.40 126.50,684.60 131.20,684.60 132.20,685.60 132.20,694.25 123.50,701.56" fill="#86FAFA" stroke="#1c3434" stroke-width="0.8" stroke-linejoin="round"/>
<polygon points="125.80,685.50 126.60,685.00 129.60,685.00 130.00,685.80 130.00,695.80 125.80,699.33" fill="#78EC58" stroke="#1c3a24" stroke-width="0.6" stroke-linejoin="round"/>
<polygon points="123.50,703.96 132.20,696.65 132.20,710.11 130.70,711.11 125.70,711.11 125.70,719.11 124.70,720.61 123.50,719.61" fill="#86FAFA" stroke="#1c3434" stroke-width="0.8" stroke-linejoin="round"/>
<polygon points="125.80,702.33 129.80,698.97 129.60,709.61 126.10,709.61" fill="#78EC58" stroke="#1c3a24" stroke-width="0.6" stroke-linejoin="round"/>
<polygon points="133.30,685.80 135.30,685.80 135.30,676.10 136.30,675.30 141.00,675.30 142.00,676.30 142.00,686.02 133.30,693.33" fill="#86FAFA" stroke="#1c3434" stroke-width="0.8" stroke-linejoin="round"/>
<polygon points="135.60,676.20 136.40,675.70 139.40,675.70 139.80,676.50 139.80,687.57 135.60,691.10" fill="#78EC58" stroke="#1c3a24" stroke-width="0.6" stroke-linejoin="round"/>
<polygon points="133.30,695.73 142.00,688.42 142.00,701.87 140.50,702.87 135.50,702.87 135.50,710.87 134.50,712.37 133.30,711.37" fill="#86FAFA" stroke="#1c3434" stroke-width="0.8" stroke-linejoin="round"/>
<polygon points="135.60,694.10 139.60,690.74 139.40,701.37 135.90,701.37" fill="#78EC58" stroke="#1c3a24" stroke-width="0.6" stroke-linejoin="round"/>
<polygon points="144.30,666.20 146.30,666.20 146.30,656.50 147.30,655.70 152.00,655.70 153.00,656.70 153.00,676.78 144.30,684.09" fill="#86FAFA" stroke="#1c3434" stroke-width="0.8" stroke-linejoin="round"/>
<polygon points="146.60,656.60 147.40,656.10 150.40,656.10 150.80,656.90 150.80,678.33 146.60,681.86" fill="#78EC58" stroke="#1c3a24" stroke-width="0.6" stroke-linejoin="round"/>
<polygon points="144.30,686.49 153.00,679.18 153.00,692.63 151.50,693.63 146.50,693.63 146.50,701.63 145.50,703.13 144.30,702.13" fill="#86FAFA" stroke="#1c3434" stroke-width="0.8" stroke-linejoin="round"/>
<polygon points="146.60,684.86 150.60,681.50 150.40,692.13 146.90,692.13" fill="#78EC58" stroke="#1c3a24" stroke-width="0.6" stroke-linejoin="round"/>
<polygon points="155.20,656.70 157.20,656.70 157.20,647.00 158.20,646.20 162.90,646.20 163.90,647.20 163.90,667.62 155.20,674.93" fill="#86FAFA" stroke="#1c3434" stroke-width="0.8" stroke-linejoin="round"/>
<polygon points="157.50,647.10 158.30,646.60 161.30,646.60 161.70,647.40 161.70,669.17 157.50,672.70" fill="#78EC58" stroke="#1c3a24" stroke-width="0.6" stroke-linejoin="round"/>
<polygon points="155.20,677.33 163.90,670.02 163.90,683.48 162.40,684.48 157.40,684.48 157.40,692.48 156.40,693.98 155.20,692.98" fill="#86FAFA" stroke="#1c3434" stroke-width="0.8" stroke-linejoin="round"/>
<polygon points="157.50,675.70 161.50,672.34 161.30,682.98 157.80,682.98" fill="#78EC58" stroke="#1c3a24" stroke-width="0.6" stroke-linejoin="round"/>
<polygon points="165.80,647.50 167.00,645.90 172.50,645.90 173.20,647.50 173.20,659.41 165.80,665.63" fill="#86FAFA" stroke="#1c3434" stroke-width="0.8" stroke-linejoin="round"/>
<polygon points="165.80,668.83 173.20,662.61 173.20,683.00 172.00,684.50 167.00,684.50 165.80,683.00" fill="#86FAFA" stroke="#1c3434" stroke-width="0.8" stroke-linejoin="round"/>
<polygon points="177.80,638.00 179.00,636.60 182.00,636.60 183.10,638.00 183.10,651.10 177.80,655.55" fill="#86FAFA" stroke="#1c3434" stroke-width="0.8" stroke-linejoin="round"/>
<polygon points="177.80,658.75 183.10,654.30 183.10,672.00 182.00,673.80 179.00,673.80 177.80,672.00" fill="#86FAFA" stroke="#1c3434" stroke-width="0.8" stroke-linejoin="round"/>
<polygon points="189.80,627.30 192.40,627.30 192.20,636.00 190.20,640.00" fill="#86FAFA" stroke="#1c3434" stroke-width="0.8" stroke-linejoin="round"/>
<line x1="191.20" y1="645.00" x2="191.20" y2="655.00" stroke="#2a6f73" stroke-width="1.35"/>
<line x1="124" y1="702.3" x2="186" y2="650.2" stroke="#fff" stroke-width="2.0"/>
<line x1="124" y1="702.3" x2="186" y2="650.2" stroke="#111" stroke-width="0.9"/>
<rect x="125.00" y="490.20" width="9.50" height="29.60" rx="1.0" fill="#86FAFA" stroke="#1c3434" stroke-width="0.8" stroke-linejoin="round"/>
<rect x="125.00" y="490.80" width="6.20" height="28.70" rx="1.0" fill="#78EC58" stroke="#1a3a1a" stroke-width="0.5"/>
<rect x="135.50" y="481.00" width="10.00" height="33.00" rx="1.0" fill="#86FAFA" stroke="#1c3434" stroke-width="0.8" stroke-linejoin="round"/>
<rect x="135.80" y="481.50" width="5.70" height="30.50" rx="1.0" fill="#78EC58" stroke="#1a3a1a" stroke-width="0.5"/>
<rect x="145.60" y="461.90" width="11.40" height="42.10" rx="1.0" fill="#86FAFA" stroke="#1c3434" stroke-width="0.8" stroke-linejoin="round"/>
<rect x="146.00" y="462.30" width="6.00" height="37.70" rx="1.0" fill="#78EC58" stroke="#1a3a1a" stroke-width="0.5"/>
<rect x="157.20" y="451.90" width="4.80" height="41.10" rx="1.0" fill="#78EC58" stroke="#1a3a1a" stroke-width="0.5"/>
<polygon points="161.20,452.50 162.50,451.90 172.50,451.90 173.80,453.00 173.40,489.00 172.50,490.40 167.80,490.40 166.80,469.50 165.60,469.50 164.50,490.40 162.00,490.40 161.20,489.00" fill="#86FAFA" stroke="#1c3434" stroke-width="0.8" stroke-linejoin="round"/>
<polygon points="177.40,443.80 178.40,442.60 183.60,442.60 184.50,443.80 184.30,479.50 177.80,481.10" fill="#86FAFA" stroke="#1c3434" stroke-width="0.8" stroke-linejoin="round"/>
<line x1="177.80" y1="481.00" x2="177.80" y2="489.00" stroke="#2a6f73" stroke-width="1.35"/>
<polygon points="188.40,434.00 189.50,433.30 191.80,433.30 191.80,459.00 188.60,461.20" fill="#86FAFA" stroke="#1c3434" stroke-width="0.8" stroke-linejoin="round"/>
<line x1="188.60" y1="461.00" x2="188.60" y2="477.00" stroke="#2a6f73" stroke-width="1.35"/>
<line x1="201.70" y1="432.60" x2="201.70" y2="451.00" stroke="#2a6f73" stroke-width="1.35"/>
<line x1="212.70" y1="432.60" x2="212.70" y2="441.00" stroke="#2a6f73" stroke-width="1.35"/>
<rect x="332.60" y="694.10" width="4.70" height="9.90" rx="1.0" fill="#86FAFA" stroke="#1c3434" stroke-width="0.8" stroke-linejoin="round"/>
<rect x="333.80" y="695.00" width="1.70" height="9.00" rx="0.5" fill="#7FFA28" stroke="none"/>
<rect x="341.30" y="685.50" width="7.30" height="18.50" rx="1.0" fill="#86FAFA" stroke="#1c3434" stroke-width="0.8" stroke-linejoin="round"/>
<polygon points="344.30,686.50 346.00,686.50 345.30,697.00 344.60,697.00" fill="#7FFA28" stroke="none"/>
<rect x="351.90" y="674.90" width="8.00" height="29.10" rx="1.0" fill="#86FAFA" stroke="#1c3434" stroke-width="0.8" stroke-linejoin="round"/>
<polygon points="354.80,676.00 356.80,676.00 355.80,690.00 355.20,690.00" fill="#7FFA28" stroke="none"/>
<polygon points="363.90,674.90 365.50,674.90 365.50,656.80 366.50,655.60 369.50,655.60 370.50,656.80 370.50,690.00 368.00,693.50 365.00,693.50 363.90,692.00" fill="#86FAFA" stroke="#1c3434" stroke-width="0.8" stroke-linejoin="round"/>
<polygon points="373.80,665.00 375.50,664.00 375.50,646.80 376.50,645.60 380.50,645.60 381.80,646.80 381.80,682.00 378.00,684.80 375.00,684.80 374.50,693.50 373.80,693.50" fill="#86FAFA" stroke="#1c3434" stroke-width="0.8" stroke-linejoin="round"/>
<polygon points="376.30,647.00 378.50,647.00 377.50,675.00 376.80,675.00" fill="#7FFA28" stroke="none"/>
<polygon points="384.50,646.50 385.50,645.60 387.10,645.60 386.50,683.50 385.30,683.50" fill="#86FAFA" stroke="#1c3434" stroke-width="0.8" stroke-linejoin="round"/>
<line x1="389.8" y1="647" x2="389.8" y2="660.3" stroke="#999" stroke-width="1"/>
<text x="384.30" y="475.60" font-size="11.5" text-anchor="start" >(e)</text>
<text x="384.30" y="491.40" font-size="11.6" text-anchor="start" >[950,1050]X[950,1050]</text>
<text x="287.10" y="684.00" font-size="11.55" text-anchor="middle" >serial number of macroparticles</text>
<text x="148.90" y="566.30" font-size="11.5" text-anchor="middle" transform="rotate(-90 148.9 566.3)">serial number of macroparticles</text>
<rect x="403.60" y="525.80" width="18.80" height="9.10" fill="#CC1C20" />
<text x="424.90" y="533.40" font-size="8" text-anchor="start" >102.5</text>
<text x="450.50" y="533.40" font-size="8" text-anchor="start" >--</text>
<text x="461.00" y="533.40" font-size="8" text-anchor="start" >120.0</text>
<rect x="403.60" y="537.09" width="18.80" height="9.10" fill="#D4722A" />
<text x="424.90" y="544.69" font-size="8" text-anchor="start" >85.00</text>
<text x="450.50" y="544.69" font-size="8" text-anchor="start" >--</text>
<text x="461.00" y="544.69" font-size="8" text-anchor="start" >102.5</text>
<rect x="403.60" y="548.38" width="18.80" height="9.10" fill="#FEFD33" />
<text x="424.90" y="555.98" font-size="8" text-anchor="start" >67.50</text>
<text x="450.50" y="555.98" font-size="8" text-anchor="start" >--</text>
<text x="461.00" y="555.98" font-size="8" text-anchor="start" >85.00</text>
<rect x="403.60" y="559.67" width="18.80" height="9.10" fill="#7FFA28" />
<text x="424.90" y="567.27" font-size="8" text-anchor="start" >50.00</text>
<text x="450.50" y="567.27" font-size="8" text-anchor="start" >--</text>
<text x="461.00" y="567.27" font-size="8" text-anchor="start" >67.50</text>
<rect x="403.60" y="570.96" width="18.80" height="9.10" fill="#80F880" />
<text x="424.90" y="578.56" font-size="8" text-anchor="start" >32.50</text>
<text x="450.50" y="578.56" font-size="8" text-anchor="start" >--</text>
<text x="461.00" y="578.56" font-size="8" text-anchor="start" >50.00</text>
<rect x="403.60" y="582.25" width="18.80" height="9.10" fill="#86FAFA" />
<text x="424.90" y="589.85" font-size="8" text-anchor="start" >15.00</text>
<text x="450.50" y="589.85" font-size="8" text-anchor="start" >--</text>
<text x="461.00" y="589.85" font-size="8" text-anchor="start" >32.50</text>
<rect x="403.60" y="593.54" width="18.80" height="9.10" fill="#4361EE" />
<text x="424.90" y="601.14" font-size="8" text-anchor="start" >-2.500</text>
<text x="453.50" y="601.14" font-size="8" text-anchor="start" >--</text>
<text x="463.50" y="601.14" font-size="8" text-anchor="start" >15.00</text>
<rect x="403.60" y="604.83" width="18.80" height="9.10" fill="#2000F0" />
<text x="424.90" y="612.43" font-size="8" text-anchor="start" >-20.00</text>
<text x="453.50" y="612.43" font-size="8" text-anchor="start" >--</text>
<text x="463.50" y="612.43" font-size="8" text-anchor="start" >-2.500</text>
</g>
<g id="leg">
<rect x="36.30" y="192.50" width="35.60" height="15.20" fill="#CC1C20" />
<rect x="174.00" y="192.50" width="35.00" height="15.20" fill="#D4722A" />
<text x="76.20" y="205.10" font-size="13.5" text-anchor="start" >102.5</text>
<text x="119.00" y="205.10" font-size="13.5" text-anchor="start" >--</text>
<text x="135.60" y="205.10" font-size="13.5" text-anchor="start" >120.0;</text>
<text x="213.40" y="205.10" font-size="13.5" text-anchor="start" >85.00</text>
<text x="256.00" y="205.10" font-size="13.5" text-anchor="start" >--</text>
<text x="272.80" y="205.10" font-size="13.5" text-anchor="start" >102.5</text>
<rect x="36.30" y="211.45" width="35.60" height="15.20" fill="#FEFD33" />
<rect x="174.00" y="211.45" width="35.00" height="15.20" fill="#7FFA28" />
<text x="76.20" y="224.05" font-size="13.5" text-anchor="start" >67.50</text>
<text x="119.00" y="224.05" font-size="13.5" text-anchor="start" >--</text>
<text x="135.60" y="224.05" font-size="13.5" text-anchor="start" >85.00;</text>
<text x="213.40" y="224.05" font-size="13.5" text-anchor="start" >50.00</text>
<text x="256.00" y="224.05" font-size="13.5" text-anchor="start" >--</text>
<text x="272.80" y="224.05" font-size="13.5" text-anchor="start" >67.50</text>
<rect x="36.30" y="230.40" width="35.60" height="15.20" fill="#80F880" />
<rect x="174.00" y="230.40" width="35.00" height="15.20" fill="#86FAFA" />
<text x="76.20" y="243.00" font-size="13.5" text-anchor="start" >32.50</text>
<text x="119.00" y="243.00" font-size="13.5" text-anchor="start" >--</text>
<text x="135.60" y="243.00" font-size="13.5" text-anchor="start" >50.00;</text>
<text x="213.40" y="243.00" font-size="13.5" text-anchor="start" >15.00</text>
<text x="256.00" y="243.00" font-size="13.5" text-anchor="start" >--</text>
<text x="272.80" y="243.00" font-size="13.5" text-anchor="start" >32.50</text>
<rect x="36.30" y="249.35" width="35.60" height="15.20" fill="#4361EE" />
<rect x="179.20" y="249.35" width="34.90" height="15.20" fill="#2000F0" />
<text x="75.80" y="261.95" font-size="13.5" text-anchor="start" >-2.500</text>
<text x="123.60" y="261.95" font-size="13.5" text-anchor="start" >--</text>
<text x="140.30" y="261.95" font-size="13.5" text-anchor="start" >15.00;</text>
<text x="218.40" y="261.95" font-size="13.5" text-anchor="start" >-20.00</text>
<text x="265.60" y="261.95" font-size="13.5" text-anchor="start" >--</text>
<text x="282.30" y="261.95" font-size="13.5" text-anchor="start" >-2.500</text>
</g>
</svg>
</body></html>
